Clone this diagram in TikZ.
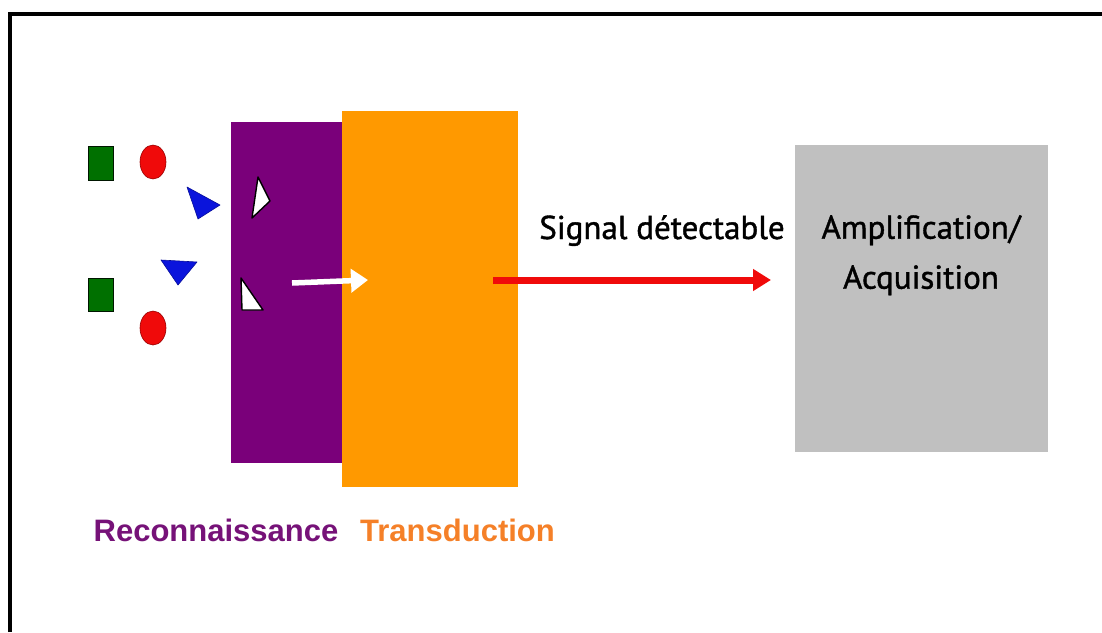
\documentclass[tikz,border=0pt]{standalone}
\usepackage{fontspec}
\setmainfont{Liberation Sans}
\newfontfamily\labfont[FakeBold=1.2]{PT Sans}
\usetikzlibrary{arrows.meta}
\definecolor{purp}{RGB}{122,0,122}
\definecolor{orng}{RGB}{255,153,0}
\definecolor{grayb}{RGB}{192,192,192}
\definecolor{grn}{RGB}{0,112,0}
\definecolor{redc}{RGB}{240,10,10}
\definecolor{blu}{RGB}{10,20,220}
\definecolor{purptxt}{RGB}{118,18,120}
\definecolor{orntxt}{RGB}{245,128,40}
\tikzset{
  sq/.style={fill=grn, draw=black!80!grn, line width=0.8pt},
  circ/.style={fill=redc, draw=red!60!black, line width=0.6pt},
  btri/.style={fill=blu, draw=blu!70!black, line width=0.6pt, line join=round},
  wtri/.style={fill=white, draw=black, line width=1.4pt, line join=round},
  lbl/.style={font=\labfont\fontsize{33}{50}\selectfont, text=black, inner sep=0pt, align=center},
  captxt/.style={font=\bfseries\fontsize{31}{36}\selectfont, inner sep=0pt, anchor=base}
}
\begin{document}
\begin{tikzpicture}[x=1pt,y=-1pt]
\useasboundingbox (0,0) rectangle (1102,632);
\fill[white] (0,0) rectangle (1102,632);
% frame
\draw[line width=4pt] (10,632) -- (10,14) -- (1102,14);
% blocks
\fill[purp] (231,122) rectangle (342,463);
\fill[orng] (342,111) rectangle (518,487);
\fill[grayb] (795,145) rectangle (1048,452);
\node[lbl, anchor=north] (amp) at (921,215) {Amplification/\\Acquisition};
% molecules
\draw[sq] (88,146) rectangle (113,180);
\draw[sq] (88,278) rectangle (113,311);
\draw[circ] (153,162) ellipse [x radius=13, y radius=17];
\draw[circ] (153,328) ellipse [x radius=13, y radius=17];
\draw[btri] (187,187) -- (220,205) -- (198,219) -- cycle;
\draw[btri] (161,260) -- (197,262) -- (178,285) -- cycle;
\draw[wtri] (258,177) -- (270,201) -- (252,218) -- cycle;
\draw[wtri] (241,278) -- (263,310) -- (242,310) -- cycle;
% arrows
\coordinate (w1) at (292,283);
\coordinate (w2) at (368,280);
\draw[white, line width=5.5pt, -{Triangle[length=17pt,width=23pt]}] (w1) -- (w2);
\coordinate (r1) at (493,280);
\coordinate (r2) at (771,280);
\draw[redc, line width=7pt, -{Triangle[length=18pt,width=21pt]}] (r1) -- (r2);
\node[lbl, anchor=base] (sig) at (662,239) {Signal détectable};
% captions
\node[captxt, text=purptxt] (rec) at (216,541) {Reconnaissance};
\node[captxt, text=orntxt] (tra) at (457.5,541) {Transduction};
\end{tikzpicture}
\end{document}
